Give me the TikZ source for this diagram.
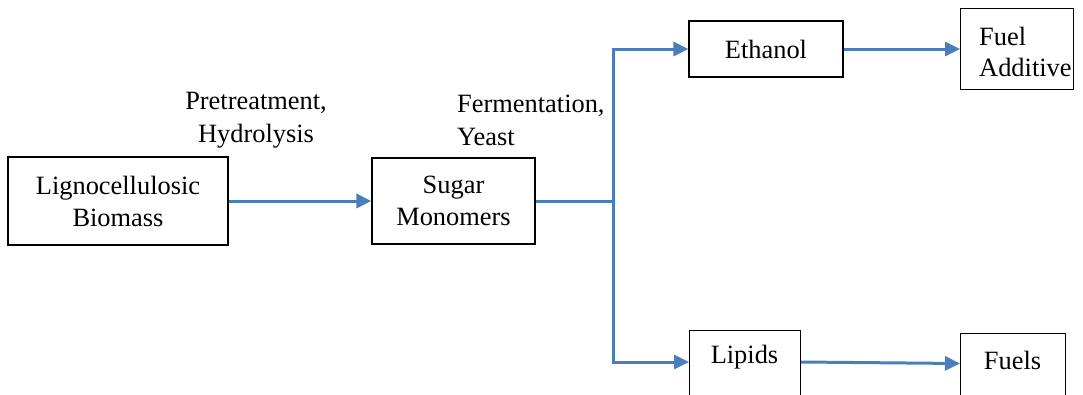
\documentclass[tikz,border=0pt]{standalone}
\usepackage{fontspec}
\setmainfont{Liberation Serif}
\usetikzlibrary{arrows.meta,calc}
\definecolor{arrowblue}{RGB}{74,126,187}
\begin{document}
\begin{tikzpicture}[x=1pt,y=-1pt,
 box/.style={draw=black, line width=1.2pt, rectangle, inner sep=0pt, font=\rmfamily\fontsize{26.4}{32}\selectfont, align=center},
 lbl/.style={inner sep=0pt, font=\rmfamily\fontsize{26.4}{33}\selectfont},
 flow/.style={draw=arrowblue, line width=3pt, -{Triangle[length=15pt,width=14pt]}}]
\clip (0,0) rectangle (1083,394);
\node[box, minimum width=220, minimum height=88] (bio) at (118,201) {Lignocellulosic\\Biomass};
\node[box, minimum width=163, minimum height=86] (sugar) at (453.5,201) {Sugar\\Monomers};
\node[box, minimum width=154, minimum height=56] (eth) at (766,49) {Ethanol};
\node[box, anchor=north west, minimum width=113, minimum height=81] (fa) at (960,8) {};
\node[lbl, align=left, anchor=west, font=\rmfamily\fontsize{26.4}{31}\selectfont] (faT) at (979,52) {Fuel\\Additive};
\node[box, anchor=north west, minimum width=111, minimum height=100] (lip) at (689,330) {};
\node[lbl] (lipT) at (744.5,357) {Lipids};
\node[box, anchor=north west, minimum width=105, minimum height=100] (fu) at (960,333) {};
\node[lbl] (fuT) at (1012.5,360) {Fuels};
\node[lbl, align=center] (pre) at (256,120) {Pretreatment,\\Hydrolysis};
\node[lbl, align=left, anchor=west] (fer) at (457,120) {Fermentation,\\Yeast};
\coordinate (j) at (613,201);
\draw[flow] (bio.east) -- (sugar.west);
\draw[draw=arrowblue, line width=3pt] (sugar.east) -- (j);
\draw[flow] (j) |- (eth.west);
\draw[flow] (j) |- ($(lip.north west)+(0,32)$);
\draw[flow] (eth.east) -- (fa.west |- eth.east);
\draw[flow] ($(lip.north east)+(0,32)$) -- ($(fu.north west)+(0,30.5)$);
\end{tikzpicture}
\end{document}
